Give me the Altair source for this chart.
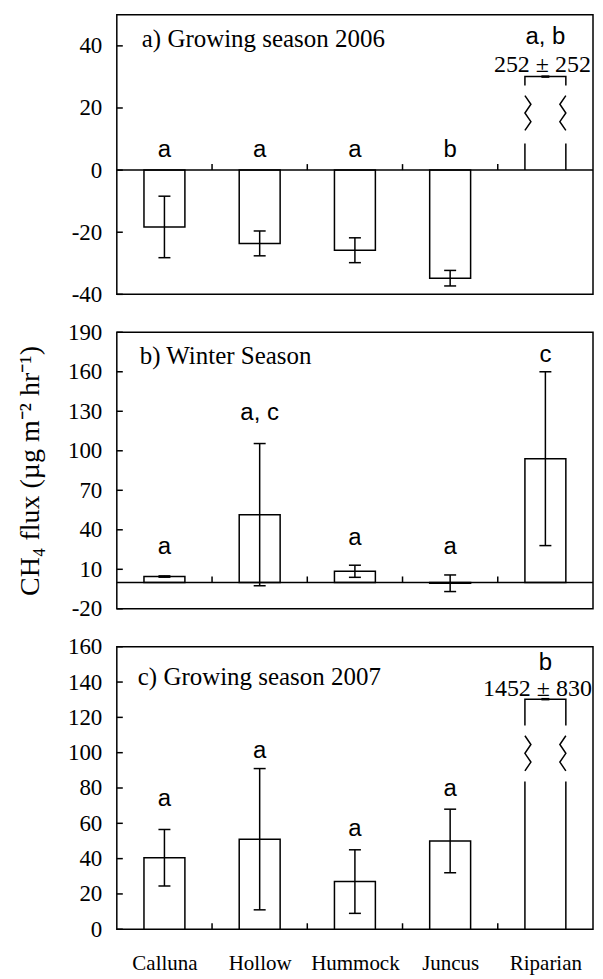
import json
import altair as alt
import pandas as pd

categories = ["Calluna", "Hollow", "Hummock", "Juncus", "Riparian"]

# a) Growing season 2006
a_mean = [-18.3, -23.6, -25.8, -34.8, 252]
a_err = [9.9, 4.0, 4.0, 2.5, 252]
a_letters = ["a", "a", "a", "b", "a, b"]
a_letter_y = [6.4, 6.4, 6.4, 6.4, 43.0]
# broken Riparian bar: lower top, zigzag bottom, zigzag top, upper bottom, bracket top
a_break = [8.6, 12.8, 24.0, 27.2, 30.1]
a_value_label = "252 ± 252"
a_value_label_y = 33.8

# b) Winter Season
b_mean = [4.5, 51.5, 8.5, -0.6, 94.0]
b_err = [0.5, 54.0, 4.6, 6.3, 66.0]
b_letters = ["a", "a, c", "a", "a", "c"]
b_letter_y = [27, 129, 34, 27, 173]

# c) Growing season 2007
c_mean = [40.5, 51.0, 27.0, 50.0, 1452]
c_err = [16.0, 40.0, 18.0, 18.0, 830]
c_letters = ["a", "a", "a", "a", "b"]
c_letter_y = [73.7, 101, 56.7, 79.3, 151]
c_break = [83.7, 89.7, 109.6, 115.4, 130.3]
c_value_label = "1452 ± 830"
c_value_label_y = 136

a_ticks = [-40, -20, 0, 20, 40]
b_ticks = [-20, 10, 40, 70, 100, 130, 160, 190]
c_ticks = [0, 20, 40, 60, 80, 100, 120, 140, 160]

SERIF = "Liberation Serif"
SANS = "Liberation Sans"
W = 477
BAR_PX = 41
HW = (BAR_PX / 2) / (W / 5)      # half bar width in index units
AMP = 6 / (W / 5)                # zigzag amplitude in index units
SW = 1.5

X_SCALE = alt.Scale(domain=[-0.5, 4.5], nice=False, zero=False, padding=0)


def panel(mean, err, letters, letter_y, domain, ticks, height, title, title_xy,
          brk=None, vlabel=None, vlabel_y=None, vlabel_dx=0, show_x=False,
          ytitle=None, zero_line=True):
    yscale = alt.Scale(domain=domain, nice=False, zero=False, padding=0)
    yaxis_kw = dict(values=ticks, ticks=False, domain=False, grid=False,
                    labelFont=SERIF, labelFontSize=23, labelColor="black",
                    labelPadding=15, labelOverlap=False,
                    labelExpr="'' + datum.value")
    if ytitle:
        yaxis_kw.update(title=ytitle, titleFont=SERIF, titleFontSize=28,
                        titleFontWeight="normal", titleColor="black", titlePadding=23)
    else:
        yaxis_kw.update(title=None)
    yaxis = alt.Axis(**yaxis_kw)
    if show_x:
        xaxis = alt.Axis(values=[0, 1, 2, 3, 4], ticks=False, domain=False, grid=False,
                         labelFont=SERIF, labelFontSize=21, labelColor="black",
                         labelPadding=23, labelFlush=False, title=None,
                         labelExpr=json.dumps(categories) + "[datum.value]")
    else:
        xaxis = None

    def X(field):
        return alt.X(field, type="quantitative", scale=X_SCALE, axis=xaxis)

    def Y(field):
        return alt.Y(field, type="quantitative", scale=yscale, axis=yaxis)

    n_draw = 4 if brk else 5
    df = pd.DataFrame({"idx": list(range(5)), "cat": categories, "mean": mean,
                       "err": err, "letter": letters, "ly": letter_y})
    df["lo"] = df["mean"] - df["err"]
    df["hi"] = df["mean"] + df["err"]
    df["z"] = 0.0
    dd = df.iloc[:n_draw]

    caps = pd.DataFrame({"idx": list(dd["idx"]) * 2,
                         "yv": list(dd["lo"]) + list(dd["hi"])})
    ticks_df = pd.DataFrame({"tv": ticks})
    bnd = pd.DataFrame({"bx": [0.5, 1.5, 2.5, 3.5], "z": [0.0] * 4})

    layers = []
    layers.append(alt.Chart(dd).mark_bar(size=BAR_PX, fill="white", stroke="black",
                                         strokeWidth=SW)
                  .encode(x=X("idx"), y=Y("mean"), y2="z"))
    layers.append(alt.Chart(dd).mark_rule(color="black", strokeWidth=SW)
                  .encode(x=X("idx"), y=Y("lo"), y2="hi"))
    layers.append(alt.Chart(caps).mark_tick(orient="horizontal", size=12,
                                            thickness=SW, color="black", opacity=1)
                  .encode(x=X("idx"), y=Y("yv")))
    if zero_line:
        layers.append(alt.Chart(df.iloc[:1]).mark_rule(color="black", strokeWidth=SW)
                      .encode(y=Y("z")))
    layers.append(alt.Chart(bnd).mark_tick(orient="vertical", size=6, thickness=SW,
                                           yOffset=-3, color="black", opacity=1)
                  .encode(x=X("bx"), y=Y("z")))
    layers.append(alt.Chart(ticks_df).mark_rule(color="black", strokeWidth=SW)
                  .encode(x=alt.value(0), x2=alt.value(6), y=Y("tv")))
    layers.append(alt.Chart(df).mark_text(font=SANS, fontSize=24, baseline="middle",
                                          color="black")
                  .encode(x=X("idx"), y=Y("ly"), text="letter:N"))
    if brk:
        c = 4
        b0, b1, b2, b3, b4 = brk
        rows = []
        rows += [("ll", 0, c - HW, 0), ("ll", 1, c - HW, b0)]
        rows += [("lr", 0, c + HW, 0), ("lr", 1, c + HW, b0)]
        zs = [b1 + (b2 - b1) * k / 4 for k in range(5)]
        offs = [0, AMP, 0, AMP, 0]
        for k in range(5):
            rows.append(("zl", k, c - HW + offs[k], zs[k]))
            rows.append(("zr", k, c + HW - offs[k], zs[k]))
        rows += [("top", 0, c - HW, b3), ("top", 1, c - HW, b4),
                 ("top", 2, c + HW, b4), ("top", 3, c + HW, b3)]
        bdf = pd.DataFrame(rows, columns=["seg", "ord", "bx", "by"])
        layers.append(alt.Chart(bdf).mark_line(color="black", strokeWidth=SW)
                      .encode(x=X("bx"), y=Y("by"), detail="seg:N", order="ord:Q"))
        layers.append(alt.Chart(pd.DataFrame({"bx": [c], "by": [b4]}))
                      .mark_tick(orient="horizontal", size=8, thickness=2.5,
                                 color="black", opacity=1)
                      .encode(x=X("bx"), y=Y("by")))
        layers.append(alt.Chart(pd.DataFrame({"bx": [c], "by": [vlabel_y], "t": [vlabel]}))
                      .mark_text(font=SERIF, fontSize=24, baseline="middle",
                                 color="black", dx=vlabel_dx)
                      .encode(x=X("bx"), y=Y("by"), text="t:N"))
    layers.append(alt.Chart(pd.DataFrame({"t": [title]}))
                  .mark_text(font=SERIF, fontSize=25, align="left", baseline="middle",
                             color="black")
                  .encode(x=alt.value(title_xy[0]), y=alt.value(title_xy[1]), text="t:N"))
    return alt.layer(*layers).properties(width=W, height=height)


pa = panel(a_mean, a_err, a_letters, a_letter_y, [-40, 50], a_ticks, 280,
           "a) Growing season 2006", (25, 24), brk=a_break, vlabel=a_value_label,
           vlabel_y=a_value_label_y, vlabel_dx=-3)
pb = panel(b_mean, b_err, b_letters, b_letter_y, [-20, 190], b_ticks, 277,
           "b) Winter Season", (23, 24),
           ytitle="CH\u2084 flux (\u00b5g m\u207b\u00b2 hr\u207b\u00b9)")
pc = panel(c_mean, c_err, c_letters, c_letter_y, [0, 160], c_ticks, 283,
           "c) Growing season 2007", (21, 30), brk=c_break, vlabel=c_value_label,
           vlabel_y=c_value_label_y, vlabel_dx=-8, show_x=True, zero_line=False)

chart = (alt.vconcat(pa, pb, pc, spacing=38, bounds="flush")
         .properties(padding={"left": 7, "top": 5, "right": 0, "bottom": 0},
                     background="white")
         .configure(font=SERIF)
         .configure_view(stroke="black", strokeWidth=SW))

chart.save("out.html", embed_options={"renderer": "svg", "actions": False})
